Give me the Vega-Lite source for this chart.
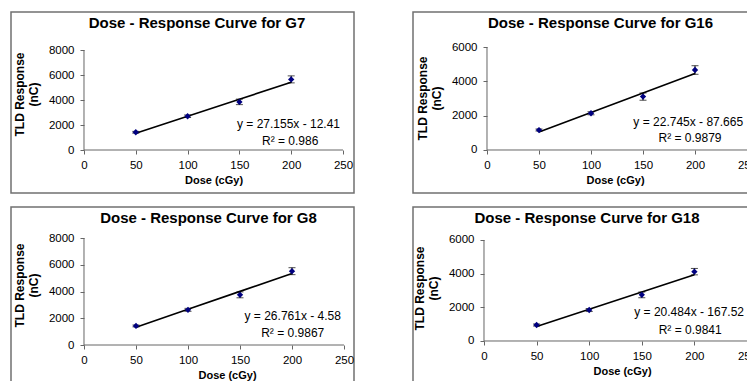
{
  "$schema": "https://vega.github.io/schema/vega-lite/v6.json",
  "background": "white",
  "padding": {"left": 10, "top": 11, "right": 0, "bottom": 0},
  "spacing": 12,
  "datasets": {
    "g7": [
      {"dose": 50, "response": 1420, "lo": 1350, "hi": 1490, "fit": 1345.34},
      {"dose": 100, "response": 2700, "lo": 2600, "hi": 2800, "fit": 2703.09},
      {"dose": 150, "response": 3850, "lo": 3630, "hi": 4070, "fit": 4060.84},
      {"dose": 200, "response": 5650, "lo": 5370, "hi": 5930, "fit": 5418.59}
    ],
    "g16": [
      {"dose": 50, "response": 1160, "lo": 1100, "hi": 1220, "fit": 1049.59},
      {"dose": 100, "response": 2140, "lo": 2050, "hi": 2230, "fit": 2186.84},
      {"dose": 150, "response": 3110, "lo": 2900, "hi": 3320, "fit": 3324.09},
      {"dose": 200, "response": 4660, "lo": 4410, "hi": 4910, "fit": 4461.34}
    ],
    "g8": [
      {"dose": 50, "response": 1425, "lo": 1355, "hi": 1495, "fit": 1333.47},
      {"dose": 100, "response": 2630, "lo": 2520, "hi": 2740, "fit": 2671.52},
      {"dose": 150, "response": 3750, "lo": 3530, "hi": 3970, "fit": 4009.57},
      {"dose": 200, "response": 5520, "lo": 5260, "hi": 5780, "fit": 5347.62}
    ],
    "g18": [
      {"dose": 50, "response": 950, "lo": 890, "hi": 1010, "fit": 856.68},
      {"dose": 100, "response": 1840, "lo": 1750, "hi": 1930, "fit": 1880.88},
      {"dose": 150, "response": 2740, "lo": 2570, "hi": 2910, "fit": 2905.08},
      {"dose": 200, "response": 4120, "lo": 3930, "hi": 4310, "fit": 3929.28}
    ],
    "eq": [
      {"panel": "G7", "line1": "y = 27.155x - 12.41", "line2": "R² = 0.986"},
      {"panel": "G16", "line1": "y = 22.745x - 87.665", "line2": "R² = 0.9879"},
      {"panel": "G8", "line1": "y = 26.761x - 4.58", "line2": "R² = 0.9867"},
      {"panel": "G18", "line1": "y = 20.484x - 167.52", "line2": "R² = 0.9841"}
    ]
  },
  "vconcat": [
    {
      "hconcat": [
        {
          "width": 343, "height": 181,
          "title": {"text": "Dose - Response Curve for G7", "dx": 14.5},
          "data": {"name": "g7"},
          "layer": [
            {
              "data": {"values": [{}]},
              "mark": {"type": "rule", "color": "#666666", "strokeWidth": 1},
              "encoding": {"x": {"datum": 0, "type": "quantitative"}, "x2": {"datum": 250}, "y": {"datum": 0, "type": "quantitative"}}
            },
            {
              "data": {"values": [{}]},
              "mark": {"type": "rule", "color": "#666666", "strokeWidth": 1},
              "encoding": {"x": {"datum": 0, "type": "quantitative"}, "y": {"datum": 0, "type": "quantitative"}, "y2": {"datum": 8000}}
            },
            {
              "mark": {"type": "line", "color": "black", "strokeWidth": 1.6},
              "encoding": {"x": {"field": "dose", "type": "quantitative", "title": "Dose (cGy)"}, "y": {"field": "fit", "type": "quantitative", "title": ["TLD Response", "(nC)"]}}
            },
            {
              "mark": {"type": "errorbar", "ticks": {"size": 7, "color": "black"}, "rule": {"color": "black"}},
              "encoding": {"x": {"field": "dose", "type": "quantitative", "title": "Dose (cGy)"}, "y": {"field": "lo", "type": "quantitative", "title": ["TLD Response", "(nC)"]}, "y2": {"field": "hi"}}
            },
            {
              "mark": {"type": "point", "shape": "diamond", "filled": true, "color": "#000080", "size": 40, "opacity": 1},
              "encoding": {
                "x": {"field": "dose", "type": "quantitative", "title": "Dose (cGy)", "scale": {"domain": [-70.46, 260.62], "nice": false, "zero": false},
                  "axis": {"offset": -43, "values": [0, 50, 100, 150, 200, 250], "titleX": 202.5}},
                "y": {"field": "response", "type": "quantitative", "title": ["TLD Response", "(nC)"], "scale": {"domain": [-3440, 11040], "nice": false, "zero": false},
                  "axis": {"offset": -73, "values": [0, 2000, 4000, 6000, 8000], "titleY": 82}}
              }
            },
            {
              "data": {"name": "eq"}, "transform": [{"filter": "datum.panel == 'G7'"}],
              "mark": {"type": "text", "font": "Liberation Sans", "fontSize": 12, "align": "center", "baseline": "middle", "color": "black"},
              "encoding": {"x": {"datum": 197.4, "type": "quantitative"}, "y": {"datum": 2080, "type": "quantitative"}, "text": {"field": "line1"}}
            },
            {
              "data": {"name": "eq"}, "transform": [{"filter": "datum.panel == 'G7'"}],
              "mark": {"type": "text", "font": "Liberation Sans", "fontSize": 12, "align": "center", "baseline": "middle", "color": "black"},
              "encoding": {"x": {"datum": 199, "type": "quantitative"}, "y": {"datum": 720, "type": "quantitative"}, "text": {"field": "line2"}}
            }
          ]
        },
        {
          "width": 343, "height": 181,
          "title": {"text": "Dose - Response Curve for G16", "dx": 16},
          "data": {"name": "g16"},
          "layer": [
            {
              "data": {"values": [{}]},
              "mark": {"type": "rule", "color": "#666666", "strokeWidth": 1},
              "encoding": {"x": {"datum": 0, "type": "quantitative"}, "x2": {"datum": 250}, "y": {"datum": 0, "type": "quantitative"}}
            },
            {
              "data": {"values": [{}]},
              "mark": {"type": "rule", "color": "#666666", "strokeWidth": 1},
              "encoding": {"x": {"datum": 0, "type": "quantitative"}, "y": {"datum": 0, "type": "quantitative"}, "y2": {"datum": 6000}}
            },
            {
              "mark": {"type": "line", "color": "black", "strokeWidth": 1.6},
              "encoding": {"x": {"field": "dose", "type": "quantitative", "title": "Dose (cGy)"}, "y": {"field": "fit", "type": "quantitative", "title": ["TLD Response", "(nC)"]}}
            },
            {
              "mark": {"type": "errorbar", "ticks": {"size": 7, "color": "black"}, "rule": {"color": "black"}},
              "encoding": {"x": {"field": "dose", "type": "quantitative", "title": "Dose (cGy)"}, "y": {"field": "lo", "type": "quantitative", "title": ["TLD Response", "(nC)"]}, "y2": {"field": "hi"}}
            },
            {
              "mark": {"type": "point", "shape": "diamond", "filled": true, "color": "#000080", "size": 40, "opacity": 1},
              "encoding": {
                "x": {"field": "dose", "type": "quantitative", "title": "Dose (cGy)", "scale": {"domain": [-71.15, 258.65], "nice": false, "zero": false},
                  "axis": {"offset": -43, "values": [0, 50, 100, 150, 200, 250], "titleX": 202}},
                "y": {"field": "response", "type": "quantitative", "title": ["TLD Response", "(nC)"], "scale": {"domain": [-2505, 8039], "nice": false, "zero": false},
                  "axis": {"offset": -74, "values": [0, 2000, 4000, 6000], "titleY": 86}}
              }
            },
            {
              "data": {"name": "eq"}, "transform": [{"filter": "datum.panel == 'G16'"}],
              "mark": {"type": "text", "font": "Liberation Sans", "fontSize": 12, "align": "center", "baseline": "middle", "color": "black"},
              "encoding": {"x": {"datum": 193.5, "type": "quantitative"}, "y": {"datum": 1649, "type": "quantitative"}, "text": {"field": "line1"}}
            },
            {
              "data": {"name": "eq"}, "transform": [{"filter": "datum.panel == 'G16'"}],
              "mark": {"type": "text", "font": "Liberation Sans", "fontSize": 12, "align": "center", "baseline": "middle", "color": "black"},
              "encoding": {"x": {"datum": 195.2, "type": "quantitative"}, "y": {"datum": 682, "type": "quantitative"}, "text": {"field": "line2"}}
            }
          ]
        }
      ],
      "spacing": 57
    },
    {
      "hconcat": [
        {
          "width": 343, "height": 181,
          "title": {"text": "Dose - Response Curve for G8", "dx": 26},
          "data": {"name": "g8"},
          "layer": [
            {
              "data": {"values": [{}]},
              "mark": {"type": "rule", "color": "#666666", "strokeWidth": 1},
              "encoding": {"x": {"datum": 0, "type": "quantitative"}, "x2": {"datum": 250}, "y": {"datum": 0, "type": "quantitative"}}
            },
            {
              "data": {"values": [{}]},
              "mark": {"type": "rule", "color": "#666666", "strokeWidth": 1},
              "encoding": {"x": {"datum": 0, "type": "quantitative"}, "y": {"datum": 0, "type": "quantitative"}, "y2": {"datum": 8000}}
            },
            {
              "mark": {"type": "line", "color": "black", "strokeWidth": 1.6},
              "encoding": {"x": {"field": "dose", "type": "quantitative", "title": "Dose (cGy)"}, "y": {"field": "fit", "type": "quantitative", "title": ["TLD Response", "(nC)"]}}
            },
            {
              "mark": {"type": "errorbar", "ticks": {"size": 7, "color": "black"}, "rule": {"color": "black"}},
              "encoding": {"x": {"field": "dose", "type": "quantitative", "title": "Dose (cGy)"}, "y": {"field": "lo", "type": "quantitative", "title": ["TLD Response", "(nC)"]}, "y2": {"field": "hi"}}
            },
            {
              "mark": {"type": "point", "shape": "diamond", "filled": true, "color": "#000080", "size": 40, "opacity": 1},
              "encoding": {
                "x": {"field": "dose", "type": "quantitative", "title": "Dose (cGy)", "scale": {"domain": [-70.19, 259.62], "nice": false, "zero": false},
                  "axis": {"offset": -43, "values": [0, 50, 100, 150, 200, 250], "titleX": 216}},
                "y": {"field": "response", "type": "quantitative", "title": ["TLD Response", "(nC)"], "scale": {"domain": [-3215, 10318], "nice": false, "zero": false},
                  "axis": {"offset": -73, "values": [0, 2000, 4000, 6000, 8000], "titleY": 78}}
              }
            },
            {
              "data": {"name": "eq"}, "transform": [{"filter": "datum.panel == 'G8'"}],
              "mark": {"type": "text", "font": "Liberation Sans", "fontSize": 12, "align": "center", "baseline": "middle", "color": "black"},
              "encoding": {"x": {"datum": 200.7, "type": "quantitative"}, "y": {"datum": 2191, "type": "quantitative"}, "text": {"field": "line1"}}
            },
            {
              "data": {"name": "eq"}, "transform": [{"filter": "datum.panel == 'G8'"}],
              "mark": {"type": "text", "font": "Liberation Sans", "fontSize": 12, "align": "center", "baseline": "middle", "color": "black"},
              "encoding": {"x": {"datum": 200.7, "type": "quantitative"}, "y": {"datum": 897, "type": "quantitative"}, "text": {"field": "line2"}}
            }
          ]
        },
        {
          "width": 343, "height": 181,
          "title": {"text": "Dose - Response Curve for G18", "dx": 2.5},
          "data": {"name": "g18"},
          "layer": [
            {
              "data": {"values": [{}]},
              "mark": {"type": "rule", "color": "#666666", "strokeWidth": 1},
              "encoding": {"x": {"datum": 0, "type": "quantitative"}, "x2": {"datum": 250}, "y": {"datum": 0, "type": "quantitative"}}
            },
            {
              "data": {"values": [{}]},
              "mark": {"type": "rule", "color": "#666666", "strokeWidth": 1},
              "encoding": {"x": {"datum": 0, "type": "quantitative"}, "y": {"datum": 0, "type": "quantitative"}, "y2": {"datum": 6000}}
            },
            {
              "mark": {"type": "line", "color": "black", "strokeWidth": 1.6},
              "encoding": {"x": {"field": "dose", "type": "quantitative", "title": "Dose (cGy)"}, "y": {"field": "fit", "type": "quantitative", "title": ["TLD Response", "(nC)"]}}
            },
            {
              "mark": {"type": "errorbar", "ticks": {"size": 7, "color": "black"}, "rule": {"color": "black"}},
              "encoding": {"x": {"field": "dose", "type": "quantitative", "title": "Dose (cGy)"}, "y": {"field": "lo", "type": "quantitative", "title": ["TLD Response", "(nC)"]}, "y2": {"field": "hi"}}
            },
            {
              "mark": {"type": "point", "shape": "diamond", "filled": true, "color": "#000080", "size": 40, "opacity": 1},
              "encoding": {
                "x": {"field": "dose", "type": "quantitative", "title": "Dose (cGy)", "scale": {"domain": [-67.49, 258.56], "nice": false, "zero": false},
                  "axis": {"offset": -47, "values": [0, 50, 100, 150, 200, 250], "titleX": 209}},
                "y": {"field": "response", "type": "quantitative", "title": ["TLD Response", "(nC)"], "scale": {"domain": [-2792, 7960], "nice": false, "zero": false},
                  "axis": {"offset": -71, "values": [0, 2000, 4000, 6000], "titleY": 81}}
              }
            },
            {
              "data": {"name": "eq"}, "transform": [{"filter": "datum.panel == 'G18'"}],
              "mark": {"type": "text", "font": "Liberation Sans", "fontSize": 12, "align": "center", "baseline": "middle", "color": "black"},
              "encoding": {"x": {"datum": 195, "type": "quantitative"}, "y": {"datum": 1705, "type": "quantitative"}, "text": {"field": "line1"}}
            },
            {
              "data": {"name": "eq"}, "transform": [{"filter": "datum.panel == 'G18'"}],
              "mark": {"type": "text", "font": "Liberation Sans", "fontSize": 12, "align": "center", "baseline": "middle", "color": "black"},
              "encoding": {"x": {"datum": 196, "type": "quantitative"}, "y": {"datum": 671, "type": "quantitative"}, "text": {"field": "line2"}}
            }
          ]
        }
      ],
      "spacing": 57
    }
  ],
  "config": {
    "view": {"stroke": "#707070", "strokeWidth": 1.5},
    "title": {"font": "Liberation Sans", "fontSize": 15, "fontWeight": "bold", "color": "black", "anchor": "middle", "baseline": "alphabetic", "offset": -19},
    "axis": {
      "domain": false, "grid": false, "ticks": true, "tickSize": 4, "tickColor": "#666666", "format": "d",
      "labelFont": "Liberation Sans", "labelFontSize": 11.5, "labelColor": "black", "labelFlush": false, "labelOverlap": false,
      "titleFont": "Liberation Sans", "titleFontWeight": "bold", "titleColor": "black"
    },
    "axisX": {"labelPadding": 5, "titleFontSize": 11, "titlePadding": 4},
    "axisY": {"labelPadding": 6, "titleFontSize": 12, "titlePadding": 8, "titleLineHeight": 13.5}
  }
}
